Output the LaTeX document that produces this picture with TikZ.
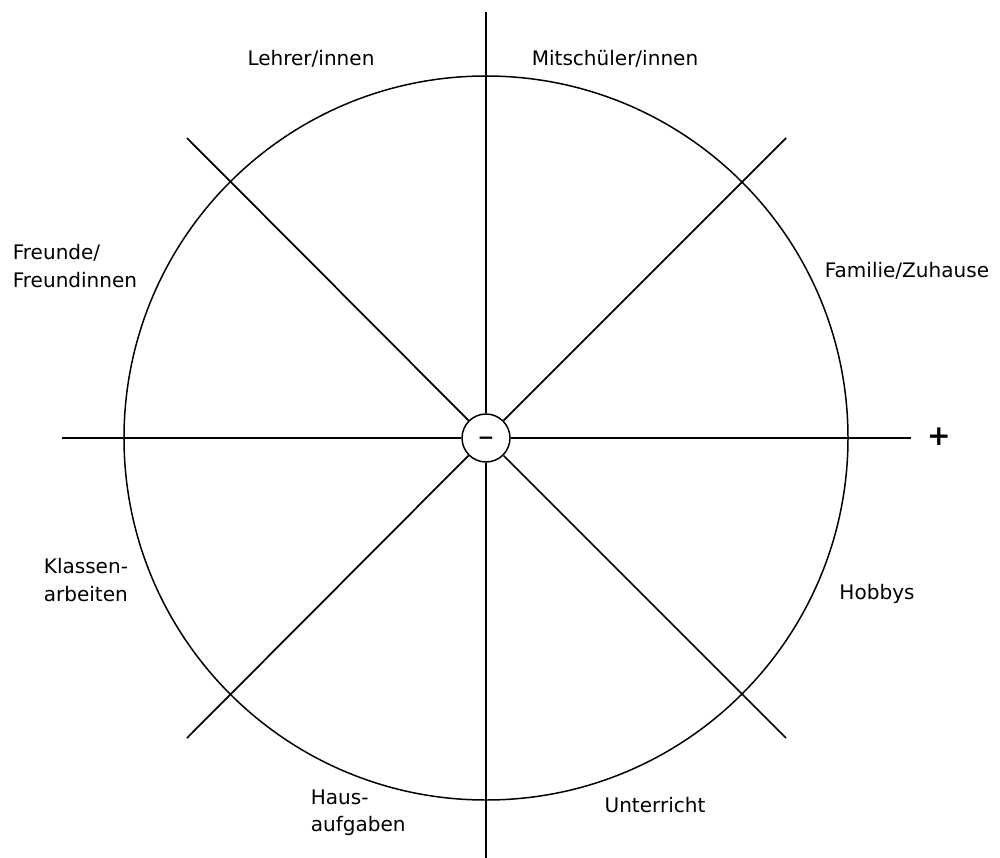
\documentclass[tikz,border=0pt]{standalone}
\usepackage{fontspec}
\setsansfont{DejaVu Sans}
\usetikzlibrary{positioning}
\tikzset{
  every picture/.style={font=\sffamily\fontsize{11.4}{15.6}\selectfont, line width=1pt},
  hub/.style={circle, draw, fill=white, line width=0.85pt, minimum size=9.6mm, inner sep=0pt},
  spoke/.style={draw=black, line width=1pt},
  rim/.style={draw=black, line width=0.85pt},
  lbl/.style={align=left, inner sep=0pt},
  sign/.style={inner sep=0pt, font=\sffamily\bfseries\fontsize{16}{16}\selectfont},
}

\begin{document}
\begin{tikzpicture}[x=0.02cm, y=-0.02cm]
  \useasboundingbox (0,0) rectangle (1000,858);
  \node[hub] (hub) at (486,438) {\raisebox{-0.3em}[0pt][0pt]{\textbf{−}}};
  % free ends of the eight spokes
  \coordinate (n) at (486,12);
  \coordinate (s) at (486,858);
  \coordinate (w) at (62,438);
  \coordinate (e) at (911,438);
  \coordinate (nw) at (187,138);
  \coordinate (ne) at (786,138);
  \coordinate (sw) at (187,738);
  \coordinate (se) at (786,738);
  \draw[rim] (hub.center) circle[radius=362];
  \foreach \d in {n,s,w,e,nw,ne,sw,se}
    \draw[spoke] (hub) -- (\d);
  \node[sign] (plus) at (939,437) {+};
  % sector labels
  \node[lbl] (lehrer) at (311,59) {Lehrer/innen};
  \node[lbl] (mitschueler) at (615,59) {Mitschüler/innen};
  \node[lbl, anchor=west] (freunde) at (12,266) {Freunde/\\Freundinnen};
  \node[lbl] (familie) at (907,271) {Familie/Zuhause};
  \node[lbl, anchor=west] (klassen) at (43,580) {Klassen-\\arbeiten};
  \node[lbl] (hobbys) at (877,594) {Hobbys};
  \node[lbl, anchor=west] (haus) at (310,813) {Haus-\\aufgaben};
  \node[lbl] (unterricht) at (655,805) {Unterricht};
\end{tikzpicture}
\end{document}
